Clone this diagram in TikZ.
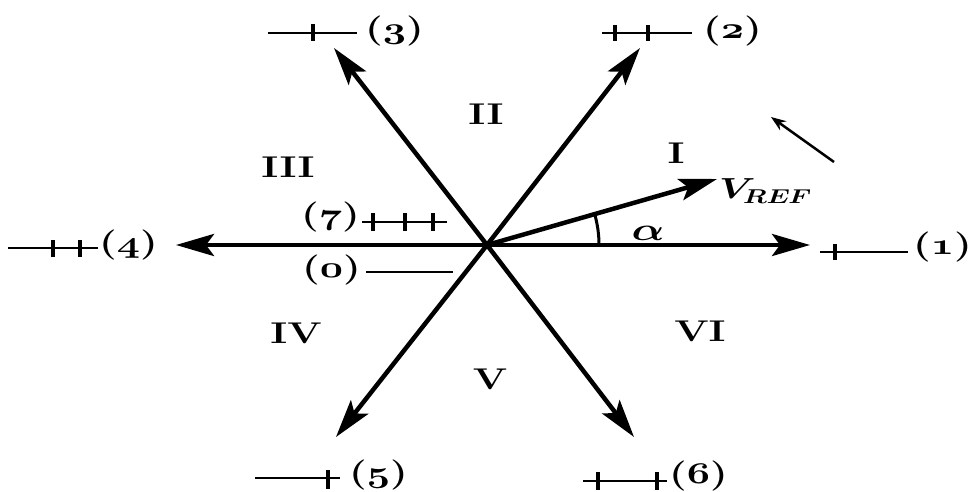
\documentclass[tikz,border=0pt]{standalone}
\usepackage{graphicx}
\usetikzlibrary{arrows.meta}
\DeclareFontFamily{OML}{mycmm}{\skewchar\font'177}
\DeclareFontShape{OML}{mycmm}{b}{it}{<->cmmib10}{}
\newcommand{\widetxt}[1]{\scalebox{1.35}[1]{#1}}
\newcommand{\mfont}{\fontencoding{OML}\fontfamily{mycmm}\fontseries{b}\fontshape{it}\selectfont}
\newcommand{\osnum}[1]{{\mfont #1}}
\begin{document}
\begin{tikzpicture}[x=1pt,y=-1pt,
  lab/.style={inner sep=0pt, font=\fontsize{30}{36}\selectfont\bfseries},
  vec/.style={line width=4.5pt, -{Stealth[length=38pt,width=22pt,inset=8pt]}},
  sw/.style={line width=2pt},
  tk/.style={line width=3.5pt}]
\useasboundingbox (0,0) rectangle (971,492);
% centre and tips
\coordinate (O) at (487,245);
\coordinate (t1) at (810,245);
\coordinate (t2) at (640,48);
\coordinate (t3) at (334,48);
\coordinate (t4) at (176,245);
\coordinate (t5) at (336,437);
\coordinate (t6) at (634,437);
\coordinate (tv) at (717,179);
% vectors
\draw[vec] (O) -- (t1);
\draw[vec] (O) -- (t2);
\draw[vec] (O) -- (t3);
\draw[vec] (O) -- (t4);
\draw[vec] (O) -- (t5);
\draw[vec] (O) -- (t6);
\draw[vec] (O) -- (tv);
% angle arc
\draw[line width=3pt] (O) ++(0:112) arc[start angle=0,end angle=-16,radius=112];
% state labels
\node[lab,anchor=east] (n1) at (972,247) {\widetxt{(\osnum{1})}};
\node[lab,anchor=west] (n2) at (703,31) {\widetxt{(\osnum{2})}};
\node[lab,anchor=west] (n3) at (365,31) {\widetxt{(\osnum{3})}};
\node[lab,anchor=west] (n4) at (99,245) {\widetxt{(\osnum{4})}};
\node[lab,anchor=west] (n5) at (349,475) {\widetxt{(\osnum{5})}};
\node[lab,anchor=west] (n6) at (669,476) {\widetxt{(\osnum{6})}};
\node[lab,anchor=west] (n7) at (301,217) {\widetxt{(\osnum{7})}};
\node[lab,anchor=west] (n0) at (302,270) {\widetxt{(\osnum{0})}};
% switch symbols
\draw[sw] (820,252) -- (908,252); \draw[tk] (835,244) -- (835,260);
\draw[sw] (602,33) -- (692,33); \draw[tk] (615,25) -- (615,41); \draw[tk] (648,25) -- (648,41);
\draw[sw] (268,33) -- (357,33); \draw[tk] (313,24) -- (313,41);
\draw[sw] (8,248) -- (98,248); \draw[tk] (53,240) -- (53,257); \draw[tk] (80,240) -- (80,257);
\draw[sw] (255,478) -- (340,478); \draw[tk] (328,470) -- (328,489);
\draw[sw] (583,481) -- (667,481); \draw[tk] (598,472) -- (598,490); \draw[tk] (657,472) -- (657,490);
\draw[sw] (362,222) -- (447,222); \draw[tk] (373,213) -- (373,231); \draw[tk] (405,213) -- (405,231); \draw[tk] (433,213) -- (433,231);
\draw[sw] (366,272) -- (453,272);
% sectors
\node[lab] (s1) at (676,153) {\widetxt{I}};
\node[lab] (s2) at (486,114) {\widetxt{II}};
\node[lab] (s3) at (288,167) {\widetxt{III}};
\node[lab] (s4) at (296,333) {\widetxt{IV}};
\node[lab] (s5) at (490,379) {\widetxt{V}};
\node[lab] (s6) at (700,331) {\widetxt{VI}};
% vref and alpha
\node[lab,anchor=west,font=\fontsize{29}{34}\selectfont\mfont] (vr) at (719,191)
  {\widetxt{V\kern-2pt\raisebox{-5pt}{\fontsize{20}{22}\selectfont REF}}};
\node[lab,font=\fontsize{32}{38}\selectfont\mfont] (al) at (648,233) {\widetxt{\char11}};
% rotation arrow
\coordinate (ra) at (834,162);
\coordinate (rb) at (771,117);
\draw[line width=2.5pt,-{Stealth[length=15pt,width=11pt]}] (ra) -- (rb);
\end{tikzpicture}
\end{document}
